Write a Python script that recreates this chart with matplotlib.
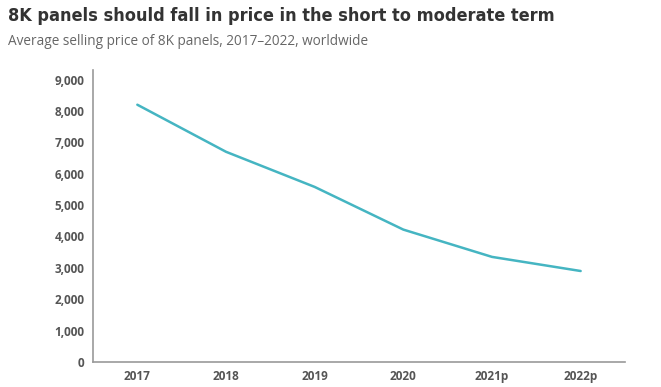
import matplotlib.pyplot as plt
from matplotlib import font_manager

years = ['2017', '2018', '2019', '2020', '2021p', '2022p']
price = [8200, 6700, 5580, 4220, 3350, 2900]
yticks = [0, 1000, 2000, 3000, 4000, 5000, 6000, 7000, 8000, 9000]

# look for a condensed bold face for the title; fall back to Open Sans
cond = [f for f in font_manager.fontManager.ttflist
        if f.name == 'DejaVu Sans' and f.stretch == 'condensed' and f.weight in (700, 'bold')]
if cond:
    title_kw = dict(fontfamily='DejaVu Sans', fontstretch='condensed', fontsize=13)
else:
    title_kw = dict(fontfamily='Open Sans', fontsize=11.8)

fig = plt.figure(figsize=(6.61, 3.87), dpi=100)
ax = fig.add_axes([0.1407, 0.0646, 0.8048, 0.754])

x = list(range(len(years)))
ax.plot(x, price, color='#45b5c2', lw=1.8, solid_capstyle='round')

ax.set_xlim(-0.5, 5.5)
ax.set_ylim(0, 9300)
ax.set_xticks(x)
ax.set_xticklabels(years)
ax.set_yticks(yticks)
ax.set_yticklabels(['{:,}'.format(v) for v in yticks])
for lab in ax.get_xticklabels() + ax.get_yticklabels():
    lab.set_fontfamily('Open Sans')
    lab.set_fontweight('bold')
    lab.set_fontsize(8.5)
    lab.set_color('#555555')
ax.tick_params(axis='x', length=0, pad=6)
ax.tick_params(axis='y', length=0, pad=6)

for s in ['top', 'right']:
    ax.spines[s].set_visible(False)
for s in ['left', 'bottom']:
    ax.spines[s].set_color('#999999')
    ax.spines[s].set_linewidth(1.2)

fig.text(0.012, 0.945, '8K panels should fall in price in the short to moderate term',
         fontweight='bold', color='#333333', **title_kw)
fig.text(0.012, 0.885, 'Average selling price of 8K panels, 2017\u20132022, worldwide',
         fontfamily='Open Sans', fontsize=9.8, color='#666666')

fig.savefig('out.png', dpi=100)
